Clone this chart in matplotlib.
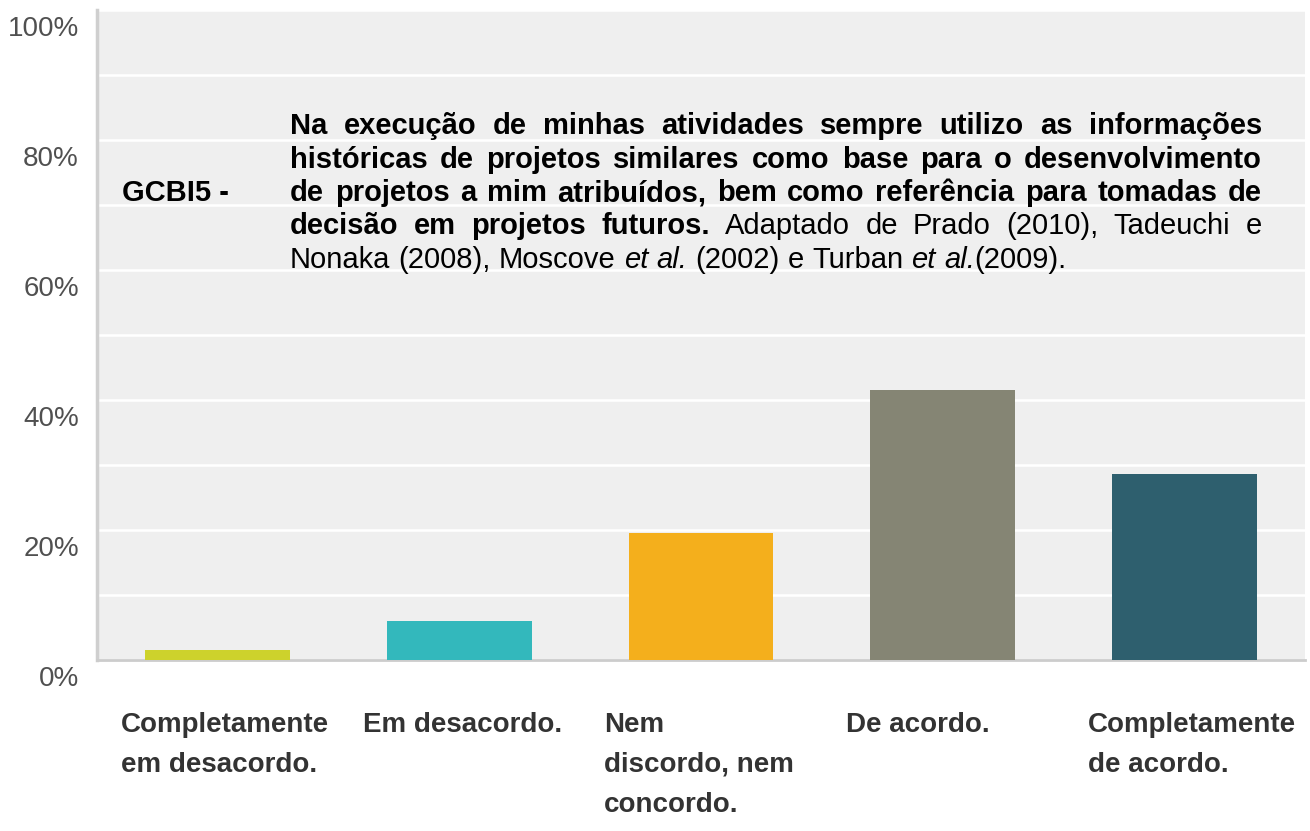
import matplotlib
matplotlib.use('Agg')
import matplotlib.pyplot as plt
import matplotlib.transforms as mtransforms

# data
categories = ['Completamente\nem desacordo.', 'Em desacordo.',
              'Nem\ndiscordo, nem\nconcordo.', 'De acordo.',
              'Completamente\nde acordo.']
percentages = [1.6, 6.0, 19.6, 41.6, 28.6]
bar_colors = ['#cdd22c', '#33b8bc', '#f4af1c', '#858574', '#2e5f6e']
y_ticks = [0, 20, 40, 60, 80, 100]
y_labels = ['0%', '20%', '40%', '60%', '80%', '100%']

question_id = 'GCBI5 -'
# each line: list of (text, style)  b=bold r=regular i=italic
paragraph = [
    [('Na execução de minhas atividades sempre utilizo as informações', 'b')],
    [('históricas de projetos similares como base para o desenvolvimento', 'b')],
    [('de projetos a mim atribuídos, bem como referência para tomadas de', 'b')],
    [('decisão em projetos futuros.', 'b'), (' Adaptado de Prado (2010), Tadeuchi e', 'r')],
    [('Nonaka (2008), Moscove ', 'r'), ('et al.', 'i'), (' (2002) e Turban ', 'r'),
     ('et al.', 'i'), ('(2009).', 'r')],
]

W, H = 1310, 831
arial = ['Liberation Sans', 'DejaVu Sans']

fig = plt.figure(figsize=(W / 100, H / 100), dpi=100)
ax = fig.add_axes([97 / W, 1 - 660 / H, 1208 / W, 650 / H])
ax.set_facecolor('#efefef')

x = list(range(len(categories)))
ax.bar(x, percentages, width=0.6, color=bar_colors, zorder=3)
ax.set_xlim(-0.5, len(categories) - 0.5)
ax.set_ylim(0, 100)

ax.set_yticks(range(0, 101, 10))
ax.grid(axis='y', color='white', linewidth=1.8, zorder=1)
ax.tick_params(left=False, bottom=False, labelleft=False, labelbottom=False)
for s in ['top', 'right']:
    ax.spines[s].set_visible(False)
ax.spines['left'].set_color('#cfcfcf')
ax.spines['left'].set_linewidth(2.5)
ax.spines['bottom'].set_color('#cccccc')
ax.spines['bottom'].set_linewidth(2)

# y labels, sitting a bit below their gridlines
ytrans = mtransforms.blended_transform_factory(fig.transFigure, ax.transData) + \
    mtransforms.ScaledTranslation(0, -26 / 100, fig.dpi_scale_trans)
for v, lab in zip(y_ticks, y_labels):
    fig.text(79 / W, v, lab, transform=ytrans, ha='right', va='baseline',
             fontsize=20, color='#505050', family=arial)

# category labels, left aligned under each bar
xtrans = mtransforms.blended_transform_factory(ax.transData, fig.transFigure)
for i, lab in enumerate(categories):
    for k, line in enumerate(lab.split('\n')):
        ax.text(i - 0.4, 1 - (732 + 40 * k) / H, line, transform=xtrans,
                ha='left', va='baseline', fontsize=20, fontweight='bold',
                color='#333333', family=arial)

# question text
fig.text(122 / W, 1 - 201 / H, question_id, ha='left', va='baseline',
         fontsize=21, fontweight='bold', color='black', family=arial)

fig.canvas.draw()
r = fig.canvas.get_renderer()
styles = {'b': dict(fontweight='bold'), 'r': dict(), 'i': dict(fontstyle='italic')}


def make(txt, st):
    return fig.text(0, 0, txt, ha='left', va='baseline', fontsize=21,
                    color='black', family=arial, **styles[st])


def width(t):
    return t.get_window_extent(renderer=r).width


sp = make('n n', 'r')
nn = make('nn', 'r')
space_w = width(sp) - width(nn)
sp.remove()
nn.remove()

x0, x1 = 290, 1262
for li, segs in enumerate(paragraph):
    words = [[]]
    for txt, st in segs:
        for k, p in enumerate(txt.split(' ')):
            if k > 0:
                words.append([])
            if p:
                words[-1].append((p, st))
    words = [w for w in words if w]
    objs = [[make(p, st) for p, st in w] for w in words]
    widths = [sum(width(t) for t in w) for w in objs]
    last = li == len(paragraph) - 1
    gap = space_w if last else (x1 - x0 - sum(widths)) / (len(words) - 1)
    yb = 1 - (134 + 33.5 * li) / H
    xp = x0
    for w, ww in zip(objs, widths):
        xx = xp
        for t in w:
            t.set_position((xx / W, yb))
            xx += width(t)
        xp += ww + gap

fig.savefig('out.png', dpi=100)
